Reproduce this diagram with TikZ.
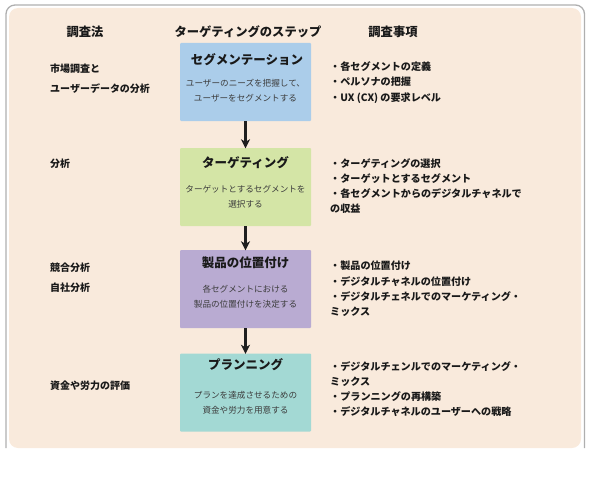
\documentclass[tikz,border=0pt]{standalone}
\usepackage{fontspec}
\setmainfont{Noto Sans CJK JP}
\newfontfamily\jp{Noto Sans CJK JP}
\usetikzlibrary{arrows.meta}
\definecolor{beige}{RGB}{249,234,220}
\definecolor{framegray}{RGB}{175,175,175}
\definecolor{cblue}{RGB}{171,205,234}
\definecolor{cgreen}{RGB}{212,229,166}
\definecolor{cpurple}{RGB}{185,171,210}
\definecolor{cteal}{RGB}{163,217,212}
\definecolor{txt}{RGB}{25,25,25}
\definecolor{bodytxt}{RGB}{60,60,60}
\tikzset{
  stepbox/.style={minimum width=131pt, minimum height=78pt, inner sep=0pt, rounded corners=1pt},
  header/.style={font=\jp\bfseries\fontsize{12.3}{14}\selectfont, text=txt, inner sep=0pt},
  boxtitle/.style={font=\jp\bfseries\fontsize{12.5}{15}\selectfont, text=txt, inner sep=0pt},
  boxbody/.style={font=\jp\fontsize{8.6}{15}\selectfont, text=bodytxt, align=center, inner sep=0pt},
  lefttxt/.style={font=\jp\bfseries\fontsize{10}{20}\selectfont, text=txt, align=left, anchor=west, inner sep=0pt},
  righttxt/.style={font=\jp\bfseries\fontsize{10.1}{15.2}\selectfont, text=txt, align=left, anchor=west, inner sep=0pt},
  flow/.style={-{Stealth[length=9pt,width=9pt,inset=2.5pt]}, line width=2.4pt, black!88, shorten >=-0.5pt}
}
\begin{document}
\begin{tikzpicture}[x=1pt,y=-1pt]
\useasboundingbox (0,0) rectangle (600,495);
% frame
\draw[framegray, line width=1.3pt, rounded corners=9pt] (6,448) -- (6,5) -- (584.5,5) -- (584.5,448);
\fill[beige, rounded corners=9pt] (9,8) rectangle (581,448);
% headers
\node[header] (h1) at (85,32) {調査法};
\node[header] (h2) at (248,32) {ターゲティングのステップ};
\node[header] (h3) at (393,32) {調査事項};
% boxes
\node[stepbox, fill=cblue] (b1) at (245.5,82) {};
\node[stepbox, fill=cgreen] (b2) at (245.5,187) {};
\node[stepbox, fill=cpurple] (b3) at (245.5,289) {};
\node[stepbox, fill=cteal] (b4) at (245.5,392.5) {};
% box texts
\node[boxtitle] (t1) at (247,60) {セグメンテーション};
\node[boxbody] (d1) at (245.5,91) {ユーザーのニーズを把握して、\\ユーザーをセグメントする};
\node[boxtitle] (t2) at (245.5,163) {ターゲティング};
\node[boxbody] (d2) at (245.5,196.5) {ターゲットとするセグメントを\\選択する};
\node[boxtitle] (t3) at (245.5,263) {製品の位置付け};
\node[boxbody] (d3) at (245.5,297) {各セグメントにおける\\製品の位置付けを決定する};
\node[boxtitle] (t4) at (245.5,365) {プランニング};
\node[boxbody] (d4) at (245.5,402.5) {プランを達成させるための\\資金や労力を用意する};
% arrows
\draw[flow] (b1) -- (b2);
\draw[flow] (b2) -- (b3);
\draw[flow] (b3) -- (b4);
% left column
\node[lefttxt] (l1) at (50,79) {市場調査と\\ユーザーデータの分析};
\node[lefttxt] (l2) at (50,164) {分析};
\node[lefttxt] (l3) at (50,278) {競合分析\\自社分析};
\node[lefttxt] (l4) at (50,386) {資金や労力の評価};
% right column
\node[righttxt] (r1) at (330,82.5) {・各セグメントの定義\\・ペルソナの把握\\・UX (CX) の要求レベル};
\node[righttxt] (r2) at (330,186) {・ターゲティングの選択\\・ターゲットとするセグメント\\・各セグメントからのデジタルチャネルで\\の収益};
\node[righttxt] (r3) at (330,289) {・製品の位置付け\\・デジタルチャネルの位置付け\\・デジタルチェネルでのマーケティング・\\ミックス};
\node[righttxt] (r4) at (330,389) {・デジタルチェンルでのマーケティング・\\ミックス\\・プランニングの再構築\\・デジタルチャネルのユーザーへの戦略};
\end{tikzpicture}
\end{document}
